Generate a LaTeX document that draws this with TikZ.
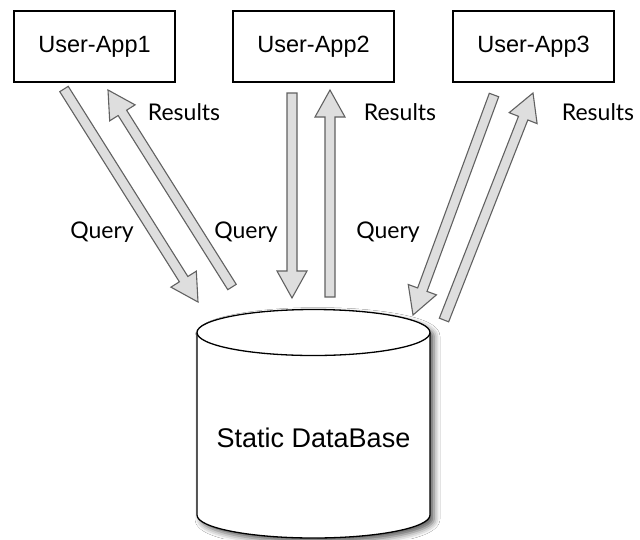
\documentclass[tikz,border=0pt]{standalone}
\usepackage{fontspec}
\setmainfont{Liberation Sans}
\newfontfamily\lblfont{Lato}
\usetikzlibrary{calc,shadows.blur}
\tikzset{
  appbox/.style={draw=black, line width=1.1pt, fill=white, minimum width=161pt,
    minimum height=71pt, inner sep=0pt, font=\fontsize{23.5}{28}\selectfont},
  lbl/.style={font=\lblfont\fontsize{23}{28}\selectfont, text=black, inner sep=0pt},
  blockarr/.style={draw=black!62, fill=black!13, line width=1.1pt, line join=miter},
  dbbody/.style={fill=white, draw=black, line width=1.3pt,
    blur shadow={shadow xshift=4pt, shadow yshift=-4pt, shadow blur radius=6pt, shadow opacity=65}},
  dbline/.style={draw=black, line width=1.3pt},
  dbtext/.style={font=\fontsize{27}{32}\selectfont, inner sep=0pt},
}
\newcommand\blockarrow[2]{%
  \coordinate (#1h) at ($(#2)!27pt!(#1)$);
  \path[blockarr] ($(#1)!5pt!90:(#2)$) -- ($(#1h)!5pt!90:(#2)$) -- ($(#1h)!15pt!90:(#2)$)
    -- (#2) -- ($(#1h)!15pt!-90:(#2)$) -- ($(#1h)!5pt!-90:(#2)$) -- ($(#1)!5pt!-90:(#2)$) -- cycle;
}
\begin{document}
\begin{tikzpicture}[x=1pt,y=-1pt]
\useasboundingbox[fill=white] (0,0) rectangle (640,539);
% database cylinder
\path[dbbody] (197,332.5) -- (197,515)
  arc[start angle=180,end angle=360,x radius=116.5pt,y radius=23pt]
  -- (430,332.5)
  arc[start angle=0,end angle=180,x radius=116.5pt,y radius=23pt] -- cycle;
\path[dbline] (197,332.5) arc[start angle=180,end angle=360,x radius=116.5pt,y radius=23pt];
\node[dbtext] (db) at (313.5,438) {Static DataBase};
% application boxes
\node[appbox] (app1) at (94.5,46.5) {User-App1};
\node[appbox] (app2) at (313.5,46.5) {User-App2};
\node[appbox] (app3) at (533.5,46.5) {User-App3};
% arrow end points
\coordinate (q1s) at (64,89);   \coordinate (q1e) at (198,302);
\coordinate (r1s) at (232,287); \coordinate (r1e) at (108,90);
\coordinate (q2s) at (292,93);  \coordinate (q2e) at (292,298);
\coordinate (r2s) at (330,297); \coordinate (r2e) at (330,90);
\coordinate (q3s) at (494,95);  \coordinate (q3e) at (413,315);
\coordinate (r3s) at (444,320); \coordinate (r3e) at (533,93);
\blockarrow{q1s}{q1e}
\blockarrow{r1s}{r1e}
\blockarrow{q2s}{q2e}
\blockarrow{r2s}{r2e}
\blockarrow{q3s}{q3e}
\blockarrow{r3s}{r3e}
% labels
\node[lbl] (lr1) at (184,112) {Results};
\node[lbl] (lq1) at (102,232) {Query};
\node[lbl] (lq2) at (246,232) {Query};
\node[lbl] (lr2) at (400,112) {Results};
\node[lbl] (lq3) at (388,232) {Query};
\node[lbl] (lr3) at (598,112) {Results};
\end{tikzpicture}
\end{document}
